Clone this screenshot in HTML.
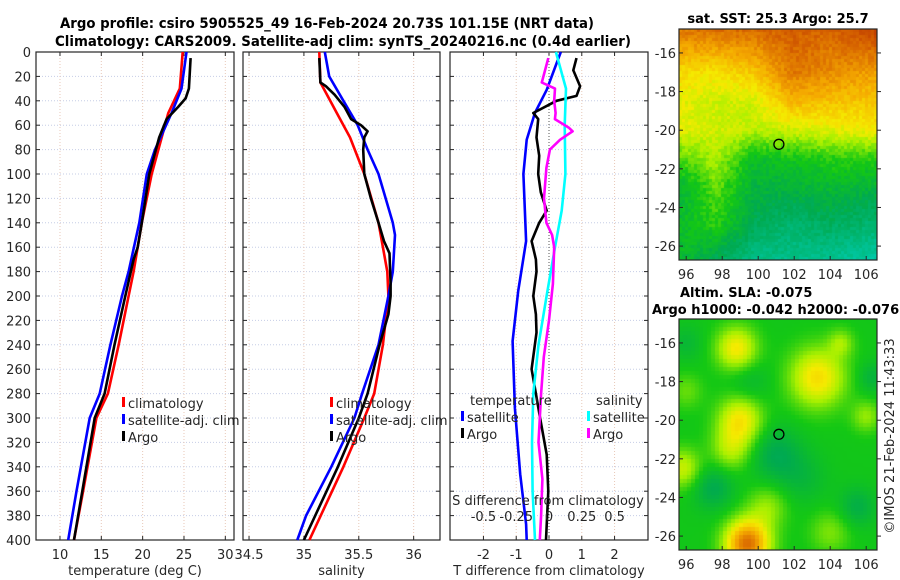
<!DOCTYPE html>
<html><head><meta charset="utf-8">
<style>
html,body{margin:0;padding:0;background:#fff;}
svg{display:block;font-family:"DejaVu Sans","Liberation Sans",sans-serif;}
canvas{position:absolute;}
#wrap{position:relative;width:900px;height:580px;overflow:hidden;}
</style></head>
<body>
<div id="wrap">
<canvas id="sst" width="198" height="231" style="left:679px;top:29px;"></canvas>
<canvas id="sla" width="198" height="231" style="left:679px;top:319px;"></canvas>
<svg id="fig" width="900" height="580" style="position:absolute;left:0;top:0;"></svg>
</div>
<script>
// ---- data ----
const depthTicks=[0,20,40,60,80,100,120,140,160,180,200,220,240,260,280,300,320,340,360,380,400];
const tempTicks=[10,15,20,25,30];
const salTicks=[34.5,35,35.5,36];
const tdiffTicks=[-2,-1,0,1,2];
const sdiffTicks=[-0.5,-0.25,0,0.25,0.5];
const latTicks=[-16,-18,-20,-22,-24,-26];
const lonTicks=[96,98,100,102,104,106];

const tClimDepth=[0,30,50,70,100,140,180,200,240,280,300,360,400];
const tClimVal=[24.84,24.5,23.1,22.3,21.1,19.9,18.9,18.3,17.1,15.8,14.4,12.8,11.7];
const tSatDepth=[0,30,50,80,100,140,180,200,240,280,300,360,400];
const tSatVal=[25.3,24.7,23.5,21.5,20.5,19.6,18.3,17.5,16.1,14.8,13.6,12.0,11.0];
const tArgoDepth=[5,30,38,45,55,70,100,140,160,170,200,240,280,300,360,400];
const tArgoVal=[25.8,25.6,25.2,24.3,22.9,22.0,20.8,19.9,19.4,18.9,17.9,16.6,15.4,14.2,12.7,11.7];

const sClimDepth=[0,25,30,50,70,100,140,180,200,240,280,300,340,400];
const sClimVal=[35.14,35.15,35.18,35.3,35.42,35.55,35.68,35.76,35.77,35.72,35.64,35.55,35.36,35.05];
const sSatDepth=[0,20,40,60,80,100,140,150,180,200,240,280,300,340,380,400];
const sSatVal=[35.19,35.23,35.36,35.49,35.58,35.68,35.81,35.83,35.81,35.77,35.68,35.53,35.46,35.25,35.02,34.94];
const sArgoDepth=[5,25,28,35,45,55,60,65,70,80,100,120,140,155,165,190,200,215,240,280,300,340,400];
const sArgoVal=[35.14,35.15,35.2,35.28,35.37,35.43,35.52,35.58,35.55,35.54,35.55,35.61,35.68,35.73,35.78,35.79,35.79,35.77,35.69,35.58,35.5,35.31,35.0];

const dtSatDepth=[0,31,50,72,100,155,196,237,292,346,387,400];
const dtSatVal=[0.36,-0.07,-0.43,-0.68,-0.78,-0.7,-0.94,-1.11,-1.04,-0.88,-0.7,-0.68];
const dtArgoDepth=[5,15,28,36,40,50,55,70,85,100,115,130,140,155,170,180,200,215,230,260,280,300,330,360,400];
const dtArgoVal=[0.84,0.74,0.95,0.84,0.23,-0.48,-0.33,-0.38,-0.3,-0.33,-0.25,-0.07,-0.3,-0.53,-0.4,-0.38,-0.48,-0.4,-0.38,-0.53,-0.4,-0.27,-0.07,-0.02,-0.09];
const dsSatDepth=[0,30,60,100,130,160,200,240,280,320,360,400];
const dsSatVal=[0.053,0.13,0.12,0.125,0.097,0.046,-0.018,-0.08,-0.12,-0.13,-0.125,-0.107];
const dsArgoDepth=[5,25,30,40,50,55,62,65,72,80,95,120,140,150,160,190,200,220,250,280,320,350,380,400];
const dsArgoVal=[-0.005,-0.055,0.046,0.04,0.05,0.045,0.15,0.18,0.084,0.007,-0.02,-0.038,-0.02,0.024,0.04,0.03,0.02,0.0,-0.04,-0.06,-0.08,-0.05,-0.06,-0.07];

const argoLon=101.15, argoLat=-20.73;
const sstRowLat=[-14.8,-17,-18.5,-20,-21.5,-23,-25,-26.7];
const sstColLon=[95.6,97.7,99.8,101.9,104,106.6];
const sstGrid=[
[0.82,0.84,0.85,0.88,0.86,0.95],
[0.62,0.60,0.66,0.82,0.78,0.74],
[0.56,0.52,0.54,0.70,0.67,0.66],
[0.55,0.53,0.50,0.52,0.55,0.58],
[0.40,0.48,0.30,0.33,0.36,0.36],
[0.26,0.42,0.26,0.26,0.28,0.26],
[0.30,0.36,0.20,0.15,0.18,0.14],
[0.30,0.20,0.10,0.10,0.08,0.04]];
const slaLon=[98.8,103.3,99.0,98.5,95.8,99.4,104.6,106.0,104.0,96.0,100.5,101.0,97.5,105.5,99.5,106.3,96.0,102.5];
const slaLat=[-16.3,-17.8,-20.0,-21.5,-22.5,-26.4,-16.0,-19.8,-25.8,-18.5,-24.5,-21.8,-23.5,-24.5,-18.0,-17.8,-16.0,-23.0];
const slaAmp=[0.25,0.27,0.25,0.15,0.18,0.5,0.12,0.12,0.1,0.08,0.12,-0.12,-0.12,-0.1,-0.06,-0.08,-0.06,-0.06];
const slaRad=[1.1,1.5,1.2,1.1,1.0,1.2,0.7,0.8,1.1,0.9,1.1,1.4,1.1,1.0,1.1,0.8,0.9,1.3];

// ---- helpers ----
const NS='http://www.w3.org/2000/svg';
const svg=document.getElementById('fig');
function el(tag,attrs,parent){const e=document.createElementNS(NS,tag);for(const k in attrs)e.setAttribute(k,attrs[k]);(parent||svg).appendChild(e);return e;}
function txt(s,x,y,attrs,parent){const t=el('text',Object.assign({x:x,y:y,'font-size':13,fill:'#262626'},attrs||{}),parent);t.textContent=s;return t;}

const TOP=52,BOT=540;
const yD=d=>TOP+(BOT-TOP)*d/400;
const P1={l:36,r:234,x0:7.1,x1:31.05};
const P2={l:243,r:440,x0:34.445,x1:36.24};
const P3={l:450,r:648,x0:-3.02,x1:3.02};
const sx=(P,v)=>P.l+(P.r-P.l)*(v-P.x0)/(P.x1-P.x0);
const sxS=v=>sx(P3,v*4);

function panel(P,name,xt,xlab){
  const g=el('g',{});
  
  
  depthTicks.forEach(d=>{const l=el('line',{x1:P.l,x2:P.r,y1:yD(d),y2:yD(d),stroke:'#c6cde6','stroke-width':1,'stroke-dasharray':'1,2'},g);
    el('line',{x1:P.l,x2:P.l+4,y1:yD(d),y2:yD(d),stroke:'#262626'},g);el('line',{x1:P.r,x2:P.r-4,y1:yD(d),y2:yD(d),stroke:'#262626'},g);});
  xt.forEach(v=>{const x=sx(P,v);const l=el('line',{x1:x,x2:x,y1:TOP,y2:BOT,stroke:'#e8c8b8','stroke-width':1,'stroke-dasharray':'1,2'},g);
    el('line',{x1:x,x2:x,y1:BOT,y2:BOT-4,stroke:'#262626'},g);el('line',{x1:x,x2:x,y1:TOP,y2:TOP+4,stroke:'#262626'},g);
    const t=txt(String(v),x,559,{'text-anchor':'middle'},g);});
  const ax=el('rect',{x:P.l,y:TOP,width:P.r-P.l,height:BOT-TOP,fill:'none',stroke:'#262626','stroke-width':1.2},g);
  
  const xl=txt(xlab,(P.l+P.r)/2,575,{'text-anchor':'middle'},g);
  
  return g;
}
function line(depths,vals,fx,color,name,g){
  const pts=depths.map((d,i)=>fx(vals[i]).toFixed(1)+','+yD(d).toFixed(1)).join(' ');
  const p=el('polyline',{points:pts,fill:'none',stroke:color,'stroke-width':2.6,'stroke-linejoin':'round'},g);
  
}
function legEntry(x,y,color,label,name,g){
  el('rect',{x:x,y:y-11,width:3,height:10,fill:color},g);
  const t=txt(label,x+6,y,{},g);
  
}

const t1=txt('Argo profile: csiro 5905525_49 16-Feb-2024 20.73S 101.15E (NRT data)',327,28,{'text-anchor':'middle','font-weight':'bold','font-size':14,fill:'#000',textLength:534,lengthAdjust:'spacingAndGlyphs'});

const t2=txt('Climatology: CARS2009. Satellite-adj clim: synTS_20240216.nc (0.4d earlier)',343,46,{'text-anchor':'middle','font-weight':'bold','font-size':14,fill:'#000',textLength:576,lengthAdjust:'spacingAndGlyphs'});


depthTicks.forEach(d=>{const t=txt(String(d),31,yD(d)+5,{'text-anchor':'end'});});

const g1=panel(P1,'temperature-panel',tempTicks,'temperature (deg C)');
const f1=v=>sx(P1,v);
line(tClimDepth,tClimVal,f1,'#ff0000','temp-climatology-line',g1);
line(tSatDepth,tSatVal,f1,'#0000ff','temp-satellite-line',g1);
line(tArgoDepth,tArgoVal,f1,'#000000','temp-argo-line',g1);
legEntry(122,408,'#ff0000','climatology','legend-climatology',g1);
legEntry(122,425,'#0000ff','satellite-adj. clim','legend-satellite',g1);
legEntry(122,442,'#000000','Argo','legend-argo',g1);

const g2=panel(P2,'salinity-panel',salTicks,'salinity');
const f2=v=>sx(P2,v);
line(sClimDepth,sClimVal,f2,'#ff0000','sal-climatology-line',g2);
line(sSatDepth,sSatVal,f2,'#0000ff','sal-satellite-line',g2);
line(sArgoDepth,sArgoVal,f2,'#000000','sal-argo-line',g2);
legEntry(330,408,'#ff0000','climatology','legend-climatology',g2);
legEntry(330,425,'#0000ff','satellite-adj. clim','legend-satellite',g2);
legEntry(330,442,'#000000','Argo','legend-argo',g2);

const g3=panel(P3,'difference-panel',tdiffTicks,'T difference from climatology');
el('line',{x1:sx(P3,0),x2:sx(P3,0),y1:TOP,y2:BOT,stroke:'#555','stroke-dasharray':'1,2'},g3);
const f3=v=>sx(P3,v);
line(dtSatDepth,dtSatVal,f3,'#0000ff','tdiff-satellite-line',g3);
line(dtArgoDepth,dtArgoVal,f3,'#000000','tdiff-argo-line',g3);
line(dsSatDepth,dsSatVal,sxS,'#00ffff','sdiff-satellite-line',g3);
line(dsArgoDepth,dsArgoVal,sxS,'#ff00ff','sdiff-argo-line',g3);
txt('temperature',470,405,{},g3);
legEntry(461,422,'#0000ff','satellite','legend-t-satellite',g3);
legEntry(461,439,'#000000','Argo','legend-t-argo',g3);
txt('salinity',596,405,{},g3);
legEntry(587,422,'#00ffff','satellite','legend-s-satellite',g3);
legEntry(587,439,'#ff00ff','Argo','legend-s-argo',g3);
const sl=txt('S difference from climatology',548,505,{'text-anchor':'middle'},g3);

sdiffTicks.forEach(v=>{const t=txt(String(v),sxS(v),521,{'text-anchor':'middle'},g3);});

// ---- maps ----
const M={l:679,r:877,lon0:95.6,lon1:106.6,lat0:-14.76,lat1:-26.72};
const mx=lon=>M.l+(M.r-M.l)*(lon-M.lon0)/(M.lon1-M.lon0);
const my=(top,lat)=>top+231*(lat-M.lat0)/(M.lat1-M.lat0);
const stops=[[0,[0,205,180]],[0.22,[0,170,80]],[0.35,[20,200,20]],[0.48,[170,240,0]],[0.58,[245,235,0]],[0.72,[245,170,0]],[0.86,[215,100,0]],[1,[185,50,0]]];
function cmap(v){v=Math.max(0,Math.min(1,v));for(let i=1;i<stops.length;i++){if(v<=stops[i][0]){const a=stops[i-1],b=stops[i];const t=(v-a[0])/(b[0]-a[0]);return a[1].map((c,k)=>Math.round(c+(b[1][k]-c)*t));}}return stops[stops.length-1][1];}
function hash(a,b){let h=(a*374761393+b*668265263)|0;h=(h^(h>>>13))*1274126177|0;return ((h^(h>>>16))>>>0)/4294967295;}
function interp(arr,v){for(let i=1;i<arr.length;i++){if((arr[1]>arr[0])?v<=arr[i]:v>=arr[i]){return i-1+(v-arr[i-1])/(arr[i]-arr[i-1]);}}return arr.length-1;}
function drawMap(id,fn,cell){
  const c=document.getElementById(id).getContext('2d');
  for(let y=0;y<231;y+=cell)for(let x=0;x<198;x+=cell){
    const lon=M.lon0+(x+cell/2)/198*(M.lon1-M.lon0);
    const lat=M.lat0+(y+cell/2)/231*(M.lat1-M.lat0);
    const col=cmap(fn(lon,lat,x/cell|0,y/cell|0));
    c.fillStyle='rgb('+col.join(',')+')';c.fillRect(x,y,cell,cell);
  }
}
function sstVal(lon,lat,i,j){
  let r=Math.min(sstRowLat.length-1.001,Math.max(0,interp(sstRowLat,lat)));
  let q=Math.min(sstColLon.length-1.001,Math.max(0,interp(sstColLon,lon)));
  const r0=Math.floor(r),q0=Math.floor(q),fr=r-r0,fq=q-q0;
  const v=sstGrid[r0][q0]*(1-fr)*(1-fq)+sstGrid[r0+1][q0]*fr*(1-fq)+sstGrid[r0][q0+1]*(1-fr)*fq+sstGrid[r0+1][q0+1]*fr*fq;
  return v+(hash(i,j)-0.5)*0.07;
}
function slaVal(lon,lat){
  let v=0.34;
  for(let k=0;k<slaLon.length;k++){const d2=((lon-slaLon[k])**2+(lat-slaLat[k])**2)/(slaRad[k]**2);v+=slaAmp[k]*Math.exp(-d2);}
  return v;
}
drawMap('sst',sstVal,3);
drawMap('sla',slaVal,4);

function mapAxes(top,name){
  const g=el('g',{});
  
  el('rect',{x:M.l,y:top,width:M.r-M.l,height:231,fill:'none',stroke:'#262626','stroke-width':1.2},g);
  latTicks.forEach(v=>{const y=my(top,v);el('line',{x1:M.l,x2:M.l+4,y1:y,y2:y,stroke:'#262626'},g);el('line',{x1:M.r,x2:M.r+4,y1:y,y2:y,stroke:'#262626'},g);
    const t=txt(String(v),676,y+5,{'text-anchor':'end'},g);});
  lonTicks.forEach(v=>{const x=mx(v);el('line',{x1:x,x2:x,y1:top+231,y2:top+227,stroke:'#262626'},g);
    const t=txt(String(v),x,top+231+19,{'text-anchor':'middle'},g);});
  const c=el('circle',{cx:mx(argoLon),cy:my(top,argoLat),r:5,fill:'none',stroke:'#000','stroke-width':1.3},g);
  
}
mapAxes(29,'sst-map-axes');
mapAxes(319,'sla-map-axes');
const mt1=txt('sat. SST: 25.3 Argo: 25.7',778,23,{'text-anchor':'middle','font-weight':'bold',fill:'#000'});

const mt2=txt('Altim. SLA: -0.075',680,297,{'font-weight':'bold',fill:'#000'});

const mt3=txt('Argo h1000: -0.042 h2000: -0.076',652,314,{'font-weight':'bold',fill:'#000'});

const cr=txt('©IMOS 21-Feb-2024 11:43:33',0,0,{'text-anchor':'middle',transform:'translate(894,436) rotate(-90)'});

</script>
</body></html>
